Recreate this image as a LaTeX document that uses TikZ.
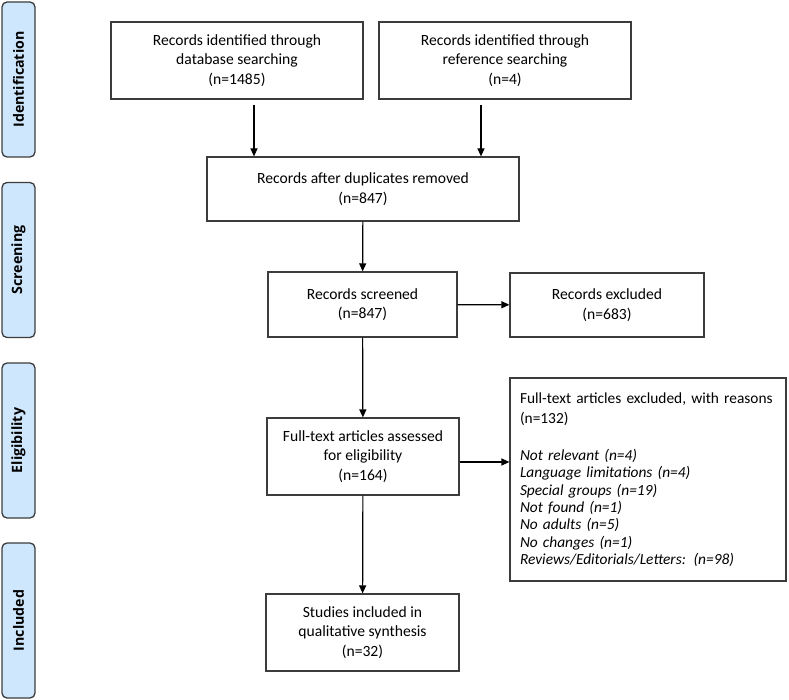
\documentclass[tikz,border=0pt]{standalone}
\usepackage{fontspec}
\setmainfont{Carlito}
\newfontfamily\phasefont{Open Sans}
\usetikzlibrary{arrows.meta}
\definecolor{phasefill}{RGB}{207,231,252}
\definecolor{lineclr}{RGB}{60,60,60}

\tikzset{
	box/.style={draw=lineclr, line width=1.2pt, align=center, inner sep=2pt,
		font=\fontsize{15.6}{19.5}\selectfont},
	phase/.style={draw=lineclr, line width=1.3pt, fill=phasefill, rounded corners=5pt,
		rotate=90, minimum width=155pt, minimum height=33pt, inner sep=0pt,
		font=\phasefont\bfseries\fontsize{14.2}{16}\selectfont},
	arr/.style={-{Triangle[length=8pt,width=7pt]}, line width=1.2pt},
}

\begin{document}
\begin{tikzpicture}[x=1pt,y=-1pt]
			\useasboundingbox (0,0) rectangle (789,700);
			
			% phases on the left
			\foreach \name/\y/\txt in {ident/79.5/Identification, screen/260/Screening, elig/440.5/Eligibility, incl/620.5/Included}
			{	\node[phase] (\name) at (18.5,\y) {\txt};
			}
			
			\node[box, minimum width=252pt, minimum height=77pt] (db)   at (237  ,  60.5) {Records identified through\\database searching\\(n=1485)};
			\node[box, minimum width=252pt, minimum height=77pt] (ref)  at (505  ,  60.5) {Records identified through\\reference searching\\(n=4)};
			\node[box, minimum width=312pt, minimum height=64pt] (dup)  at (363  , 189  ) {Records after duplicates removed\\(n=847)};
			\node[box, minimum width=189pt, minimum height=65pt] (scr)  at (362.5, 304.5) {Records screened\\(n=847)};
			\node[box, minimum width=194pt, minimum height=64pt] (exc)  at (607  , 305  ) {Records excluded\\(n=683)};
			\node[box, minimum width=192pt, minimum height=77pt] (full) at (363  , 456.5) {Full-text articles assessed\\for eligibility\\(n=164)};
			\node[box, minimum width=276pt, minimum height=203pt, text width=256pt, align=left, inner xsep=10pt,
				font=\fontsize{15.4}{17.3}\selectfont] (fexc) at (648, 479.5)
				{\mbox{Full-text articles excluded, with reasons}\\[2.7pt](n=132)\\[20pt]
				\textit{Not relevant (n=4)}\\
				\textit{Language limitations (n=4)}\\
				\textit{Special groups (n=19)}\\
				\textit{Not found (n=1)}\\
				\textit{No adults (n=5)}\\
				\textit{No changes (n=1)}\\
				\textit{Reviews/Editorials/Letters: (n=98)}};
			\node[box, minimum width=193pt, minimum height=77pt] (stud) at (362.5, 632.5) {Studies included in\\qualitative synthesis\\(n=32)};
			
			% arrows
			\draw[arr, shorten <=5pt] ([xshift=17pt]db.south) -- ([xshift=17pt]db.south |- dup.north);
			\draw[arr, shorten <=5pt] ([xshift=-24pt]ref.south) -- ([xshift=-24pt]ref.south |- dup.north);
			\foreach \u/\v in {dup/scr, scr/full, full/stud}
			{	\draw[arr] (\u) -- (\v);
			}
			\draw[arr] (scr) -- (exc);
			\draw[arr] ([yshift=-5.5pt]full.east) -- ([yshift=-5.5pt]full.east -| fexc.west);
		\end{tikzpicture}
\end{document}
